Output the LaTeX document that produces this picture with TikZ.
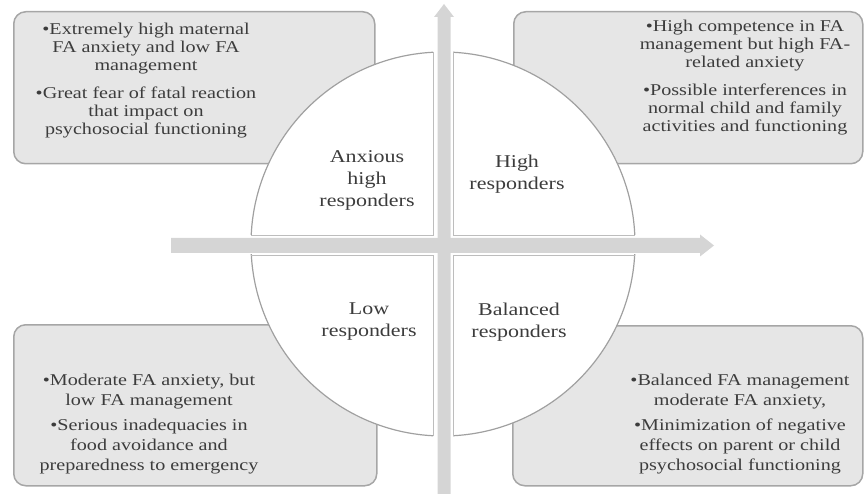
\documentclass[tikz,border=0pt]{standalone}
\usepackage{fontspec}
\setmainfont{Liberation Serif}[FakeStretch=1.22]
\definecolor{boxfill}{HTML}{E6E6E6}
\definecolor{boxline}{HTML}{A6A6A6}
\definecolor{txt}{HTML}{3C3C3C}
\definecolor{arrowgray}{HTML}{D5D5D5}
\definecolor{qline}{HTML}{A0A0A0}
\begin{document}
\begin{tikzpicture}[x=1pt,y=-1pt,
  infobox/.style={draw=boxline, fill=boxfill, line width=1.5pt, rounded corners=12pt, inner sep=0pt, anchor=north west},
  infotext/.style={text=txt, align=center, inner sep=0pt, font=\fontsize{16.5}{18}\selectfont},
  lowtext/.style={text=txt, align=center, inner sep=0pt, font=\fontsize{16.5}{20}\selectfont},
  qlabel/.style={text=txt, align=center, inner sep=0pt, font=\fontsize{18}{22}\selectfont},
  quad/.style={fill=white, draw=qline, line width=1.2pt},
  qedge/.style={draw=qline!70, line width=0.8pt},
  axisarrow/.style={fill=arrowgray, draw=none}]

\useasboundingbox (0,0) rectangle (864,494);

% information boxes
\node[infobox, minimum width=361pt, minimum height=152pt] (tlbox) at (13,11) {};
\node[infobox, minimum width=349pt, minimum height=152pt] (trbox) at (513,11) {};
\node[infobox, minimum width=363pt, minimum height=161pt] (blbox) at (13,324) {};
\node[infobox, minimum width=350pt, minimum height=160pt] (brbox) at (512,325) {};

% quadrants of the circle
\coordinate (c) at (443,244);
\begin{scope}
  \clip (0,0) rectangle (433,235);
  \path[quad] (c) circle[radius=192pt];
\end{scope}
\begin{scope}
  \clip (453,0) rectangle (864,235);
  \path[quad] (c) circle[radius=192pt];
\end{scope}
\begin{scope}
  \clip (0,255) rectangle (433,494);
  \path[quad] (c) circle[radius=192pt];
\end{scope}
\begin{scope}
  \clip (453,255) rectangle (864,494);
  \path[quad] (c) circle[radius=192pt];
\end{scope}
\draw[qedge] (251.2,235) -- (433,235) -- (433,52.3);
\draw[qedge] (634.8,235) -- (453,235) -- (453,52.3);
\draw[qedge] (251.3,255) -- (433,255) -- (433,435.7);
\draw[qedge] (634.7,255) -- (453,255) -- (453,435.7);

% axes
\fill[axisarrow] (171,238) -- (700,238) -- (700,234.5) -- (714,245.5) -- (700,256.5) -- (700,253) -- (171,253) -- cycle;
\fill[axisarrow] (437.5,494) -- (437.5,17) -- (434,17) -- (444,4) -- (454,17) -- (450.5,17) -- (450.5,494) -- cycle;

% box texts
\node[infotext] (tltext) at (146,80.5) {•Extremely high maternal\\FA anxiety and low FA\\management\\[10pt]•Great fear of fatal reaction\\that impact on\\psychosocial functioning};
\node[infotext] (trtext) at (745,78) {•High competence in FA\\management but high FA-\\related anxiety\\[10pt]•Possible interferences in\\normal child and family\\activities and functioning};
\node[lowtext] (bltext) at (149,424) {•Moderate FA anxiety, but\\low FA management\\[5pt]•Serious inadequacies in\\food avoidance and\\preparedness to emergency};
\node[lowtext] (brtext) at (740,424.5) {•Balanced FA management\\moderate FA anxiety,\\[5pt]•Minimization of negative\\effects on parent or child\\psychosocial functioning};

% quadrant labels
\node[qlabel] (tllabel) at (367,180) {Anxious\\high\\responders};
\node[qlabel] (trlabel) at (517,174.5) {High\\responders};
\node[qlabel] (bllabel) at (369,322) {Low\\responders};
\node[qlabel] (brlabel) at (519,322) {Balanced\\responders};
\end{tikzpicture}
\end{document}
